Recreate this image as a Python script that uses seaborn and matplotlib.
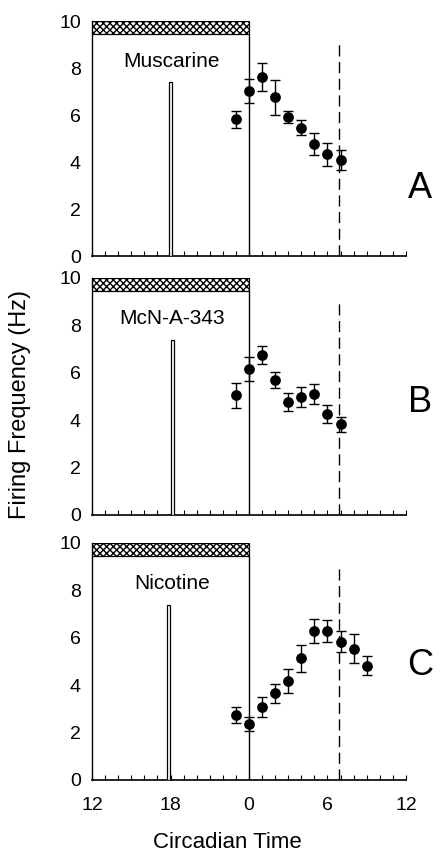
import numpy as np
import pandas as pd
import seaborn as sns
import matplotlib.pyplot as plt
from matplotlib.patches import Rectangle

# circadian time (hours after CT0) for each recording bin
ct_a = [-1, 0, 1, 2, 3, 4, 5, 6, 7]
hz_a = [5.82, 7.03, 7.63, 6.75, 5.93, 5.46, 4.77, 4.33, 4.09]
err_a = [0.37, 0.52, 0.59, 0.74, 0.26, 0.33, 0.45, 0.50, 0.43]

ct_b = [-1, 0, 1, 2, 3, 4, 5, 6, 7]
hz_b = [5.05, 6.17, 6.75, 5.70, 4.77, 4.98, 5.12, 4.26, 3.82]
err_b = [0.52, 0.51, 0.38, 0.33, 0.38, 0.44, 0.42, 0.38, 0.32]

ct_c = [-1, 0, 1, 2, 3, 4, 5, 6, 7, 8, 9]
hz_c = [2.74, 2.35, 3.07, 3.66, 4.18, 5.13, 6.29, 6.29, 5.84, 5.53, 4.82]
err_c = [0.34, 0.30, 0.43, 0.41, 0.50, 0.58, 0.52, 0.45, 0.43, 0.61, 0.40]

drug_names = ['Muscarine', 'McN-A-343', 'Nicotine']
panel_letters = ['A', 'B', 'C']
pulse_ct = [-6.0, -5.85, -6.15]   # drug application (~CT18)
pulse_height = 7.4
phase_ct = 6.9                    # dashed line
xtick_pos = [-12, -6, 0, 6, 12]
xtick_labels = ['12', '18', '0', '6', '12']

sns.set_style("ticks")
plt.rcParams['font.family'] = ['Liberation Sans', 'DejaVu Sans']
plt.rcParams['text.color'] = 'black'
plt.rcParams['axes.labelcolor'] = 'black'
plt.rcParams['xtick.color'] = 'black'
plt.rcParams['ytick.color'] = 'black'
plt.rcParams['axes.edgecolor'] = 'black'

fig = plt.figure(figsize=(4.4, 8.56), dpi=100)

# axes boxes, figure fractions
boxes = [(0.2091, 0.7009, 0.7136, 0.2745),
         (0.2091, 0.3984, 0.7136, 0.2769),
         (0.2091, 0.0888, 0.7136, 0.2769)]
letter_y = [0.780, 0.530, 0.222]

data = [(ct_a, hz_a, err_a), (ct_b, hz_b, err_b), (ct_c, hz_c, err_c)]

for i, (ct, hz, err) in enumerate(data):
    ax = fig.add_axes(boxes[i])
    df = pd.DataFrame({'ct': ct, 'hz': hz, 'err': err})

    # subjective night box with hatched bar on top
    ax.add_patch(Rectangle((-12, 9.43), 12, 0.57, facecolor='white',
                           edgecolor='black', hatch='xxxxx', lw=0.9, zorder=2))
    ax.plot([0, 0], [0, 9.43], color='black', lw=1.0, zorder=2)
    ax.plot([phase_ct, phase_ct], [0, 9.05], color='black', lw=1.0,
            dashes=(8, 4), zorder=2)

    # drug pulse
    ax.bar(pulse_ct[i], pulse_height, width=0.22, facecolor='white',
           edgecolor='black', lw=0.9, zorder=3)

    ax.errorbar(df['ct'], df['hz'], yerr=df['err'], fmt='none', ecolor='black',
                elinewidth=1.0, capsize=3.8, capthick=1.0, zorder=4)
    sns.scatterplot(data=df, x='ct', y='hz', ax=ax, color='black', s=60,
                    edgecolor='black', linewidth=0, zorder=5, legend=False)

    ax.text(-5.9, 8.3, drug_names[i], ha='center', va='center', fontsize=15)

    ax.set_xlim(-12, 12)
    ax.set_ylim(0, 10)
    ax.set_yticks([0, 2, 4, 6, 8, 10])
    ax.set_xticks(xtick_pos)
    ax.set_xticks(np.arange(-12, 13, 1), minor=True)
    ax.tick_params(axis='y', length=0, pad=8, labelsize=14)
    ax.tick_params(axis='x', which='both', direction='in', length=3.5,
                   width=0.8, pad=12, labelsize=14)
    if i < 2:
        ax.set_xticklabels([])
    else:
        ax.set_xticklabels(xtick_labels)
    ax.set_xlabel('')
    ax.set_ylabel('')
    for side in ['top', 'right']:
        ax.spines[side].set_visible(False)
    ax.spines['left'].set_linewidth(1.0)
    ax.spines['bottom'].set_linewidth(1.2)
    ax.set_facecolor('white')

    fig.text(0.955, letter_y[i], panel_letters[i], ha='center', va='center',
             fontsize=26)

fig.text(0.046, 0.527, 'Firing Frequency (Hz)', rotation=90, ha='center',
         va='center', fontsize=17)
fig.text(0.516, 0.003, 'Circadian Time', ha='center', va='bottom', fontsize=16)

fig.savefig('out.png', dpi=100, facecolor='white')
